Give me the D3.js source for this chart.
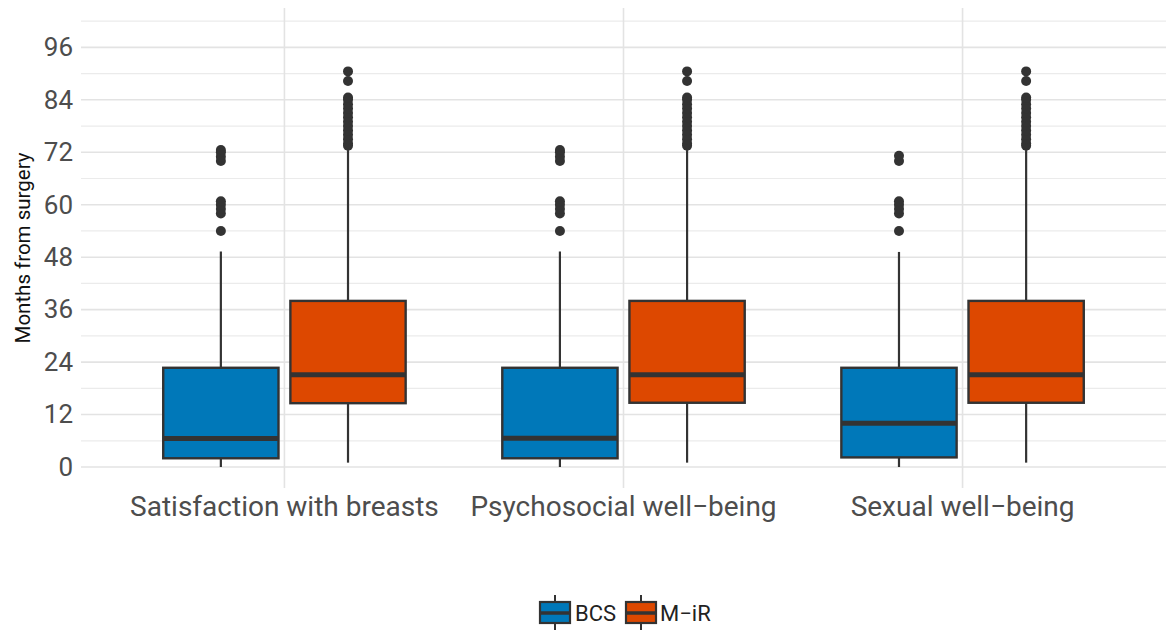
<!DOCTYPE html>
<html>
<head>
<meta charset="utf-8">
<script src="https://cdn.jsdelivr.net/npm/d3@7"></script>
<style>
  body { margin: 0; background: #fff; }
  svg { display: block; font-family: Roboto, "Liberation Sans", sans-serif; }
</style>
</head>
<body>
<div id="chart"></div>
<script>
const categories = ["Satisfaction with breasts", "Psychosocial well\u2212being", "Sexual well\u2212being"];
const groups = ["BCS", "M\u2212iR"];
const yTicks = [0, 12, 24, 36, 48, 60, 72, 84, 96];

// box stats, one value per category
const bcsLower = [0, 0, 0];
const bcsQ1 = [2.0, 2.0, 2.2];
const bcsMedian = [6.5, 6.6, 10.0];
const bcsQ3 = [22.7, 22.7, 22.7];
const bcsUpper = [49.3, 49.3, 49.2];
const bcsOutliers = [
  [54, 58, 59, 60, 60.8, 70, 71, 72, 72.5],
  [54, 58, 59, 60, 60.8, 70, 71, 72, 72.5],
  [54, 58, 59, 60, 60.8, 70, 71.2]
];

const mirLower = [1, 1, 1];
const mirQ1 = [14.6, 14.7, 14.7];
const mirMedian = [21.1, 21.1, 21.1];
const mirQ3 = [38.0, 38.0, 38.0];
const mirUpper = [72.5, 72.5, 72.5];
const mirOutliers = [
  [73.5, 74, 75, 76, 77, 78, 79, 80, 81, 82, 83, 84, 84.5, 88.3, 90.5],
  [73.5, 74, 75, 76, 77, 78, 79, 80, 81, 82, 83, 84, 84.5, 88.3, 90.5],
  [73.5, 74, 75, 76, 77, 78, 79, 80, 81, 82, 83, 84, 84.5, 88.3, 90.5]
];

const colors = ["#0078b9", "#dd4800"];
const ink = "#333333";

const W = 1166, H = 635;
const panel = { left: 81, right: 1166, top: 8, bottom: 488 };

const svg = d3.select("#chart").append("svg")
  .attr("width", W)
  .attr("height", H);

const x = d3.scaleBand()
  .domain(categories)
  .range([panel.left, panel.right])
  .paddingInner(0)
  .paddingOuter(0.1);

const y = d3.scaleLinear()
  .domain([-4.8, 105])
  .range([panel.bottom, panel.top]);

const step = x.step();
const dodge = d3.scaleBand().domain(groups).range([-0.375 * step, 0.375 * step]);
const boxW = 0.34 * step;

// grid
const grid = svg.append("g");
grid.selectAll(".minor")
  .data(d3.range(6, 105, 12))
  .join("line")
  .attr("x1", panel.left).attr("x2", panel.right)
  .attr("y1", d => y(d)).attr("y2", d => y(d))
  .attr("stroke", "#ebebeb").attr("stroke-width", 1.2);
grid.selectAll(".major")
  .data(yTicks)
  .join("line")
  .attr("x1", panel.left).attr("x2", panel.right)
  .attr("y1", d => y(d)).attr("y2", d => y(d))
  .attr("stroke", "#e3e3e3").attr("stroke-width", 1.6);
grid.selectAll(".vert")
  .data(categories)
  .join("line")
  .attr("x1", d => x(d) + step / 2).attr("x2", d => x(d) + step / 2)
  .attr("y1", panel.top).attr("y2", panel.bottom)
  .attr("stroke", "#e3e3e3").attr("stroke-width", 1.6);

// axes labels
const yAxis = svg.append("g")
  .attr("transform", `translate(${panel.left},0)`)
  .call(d3.axisLeft(y).tickValues(yTicks).tickSize(0).tickPadding(8));
yAxis.select(".domain").remove();
yAxis.selectAll("text")
  .attr("font-size", 26)
  .attr("font-family", "Roboto, sans-serif")
  .attr("fill", "#4d4d4d");

const xAxis = svg.append("g")
  .attr("transform", `translate(0,${panel.bottom})`)
  .call(d3.axisBottom(x).tickSize(0).tickPadding(8));
xAxis.select(".domain").remove();
xAxis.selectAll("text")
  .attr("font-size", 28)
  .attr("font-family", "Roboto, sans-serif")
  .attr("fill", "#4d4d4d");

svg.append("text")
  .attr("transform", `translate(30,${(panel.top + panel.bottom) / 2}) rotate(-90)`)
  .attr("text-anchor", "middle")
  .attr("font-size", 20.5)
  .attr("fill", "#111")
  .text("Months from surgery");

// boxes
const stats = [];
categories.forEach((c, i) => {
  stats.push({ cat: c, g: 0, lo: bcsLower[i], q1: bcsQ1[i], med: bcsMedian[i], q3: bcsQ3[i], hi: bcsUpper[i], out: bcsOutliers[i] });
  stats.push({ cat: c, g: 1, lo: mirLower[i], q1: mirQ1[i], med: mirMedian[i], q3: mirQ3[i], hi: mirUpper[i], out: mirOutliers[i] });
});
const cx = d => x(d.cat) + step / 2 + dodge(groups[d.g]) + dodge.bandwidth() / 2;

const box = svg.append("g").selectAll("g")
  .data(stats)
  .join("g");

box.append("line")
  .attr("x1", cx).attr("x2", cx)
  .attr("y1", d => y(d.q3)).attr("y2", d => y(d.hi))
  .attr("stroke", ink).attr("stroke-width", 2.2);
box.append("line")
  .attr("x1", cx).attr("x2", cx)
  .attr("y1", d => y(d.q1)).attr("y2", d => y(d.lo))
  .attr("stroke", ink).attr("stroke-width", 2.2);
box.append("rect")
  .attr("x", d => cx(d) - boxW / 2)
  .attr("width", boxW)
  .attr("y", d => y(d.q3))
  .attr("height", d => y(d.q1) - y(d.q3))
  .attr("fill", d => colors[d.g])
  .attr("stroke", ink).attr("stroke-width", 2.4);
box.append("line")
  .attr("x1", d => cx(d) - boxW / 2).attr("x2", d => cx(d) + boxW / 2)
  .attr("y1", d => y(d.med)).attr("y2", d => y(d.med))
  .attr("stroke", ink).attr("stroke-width", 5);
box.selectAll("circle")
  .data(d => d.out.map(v => ({ v, d })))
  .join("circle")
  .attr("cx", o => cx(o.d))
  .attr("cy", o => y(o.v))
  .attr("r", 5)
  .attr("fill", ink);

// legend
const legend = svg.append("g").attr("transform", "translate(539,613)");
const keyW = 32;
const items = [{ g: 0, x: 0, tx: 36 }, { g: 1, x: 86, tx: 121 }];
items.forEach(it => {
  const k = legend.append("g").attr("transform", `translate(${it.x},0)`);
  k.append("line").attr("x1", keyW / 2).attr("x2", keyW / 2).attr("y1", -18).attr("y2", 17)
    .attr("stroke", ink).attr("stroke-width", 2);
  k.append("rect").attr("x", 1).attr("y", -11).attr("width", keyW - 2).attr("height", 21)
    .attr("fill", colors[it.g]).attr("stroke", ink).attr("stroke-width", 2.2);
  k.append("line").attr("x1", 1).attr("x2", keyW - 1).attr("y1", 0).attr("y2", 0)
    .attr("stroke", ink).attr("stroke-width", 3.5);
  legend.append("text")
    .attr("x", it.tx).attr("y", 0).attr("dy", "0.35em")
    .attr("font-size", 22)
    .attr("fill", "#222")
    .text(groups[it.g]);
});
</script>
</body>
</html>
